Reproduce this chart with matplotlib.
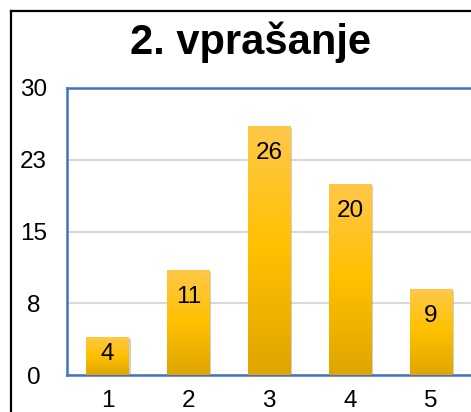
import matplotlib
matplotlib.use("Agg")
import matplotlib.pyplot as plt
import numpy as np
from matplotlib.colors import LinearSegmentedColormap
from matplotlib.lines import Line2D
import matplotlib.patheffects as pe

categories = ["1", "2", "3", "4", "5"]
values = [4, 11, 26, 20, 9]
yticks = [0, 7.5, 15, 22.5, 30]
ytick_labels = ["0", "8", "15", "23", "30"]
title = "2. vprašanje"

plt.rcParams['font.family'] = ['Liberation Sans', 'DejaVu Sans']

W, H = 471, 412
fig = plt.figure(figsize=(W / 100, H / 100), dpi=100)

# outer chart border (cropped on right/bottom)
fig.add_artist(Line2D([11 / W, 11 / W], [0, 1 - 11 / H], color="black", lw=1.6, transform=fig.transFigure))
fig.add_artist(Line2D([11 / W, 1.01], [1 - 11 / H, 1 - 11 / H], color="black", lw=1.6, transform=fig.transFigure))

left, right, top, bottom = 67, 471.5, 88, 375
ax = fig.add_axes([left / W, 1 - bottom / H, (right - left) / W, (bottom - top) / H])

x = np.arange(len(categories))

cmap = LinearSegmentedColormap.from_list("gold", ["#DFA500", "#FFC000", "#FFC84A"])
grad = np.linspace(0, 1, 256).reshape(-1, 1)

bars = ax.bar(x, values, width=0.52, color="#FFC000", zorder=3,
              path_effects=[pe.SimplePatchShadow(offset=(1.5, -1.5), shadow_rgbFace="#888888", alpha=0.4), pe.Normal()])
for b in bars:
    bx, by = b.get_x(), b.get_y()
    bw, bh = b.get_width(), b.get_height()
    im = ax.imshow(grad, cmap=cmap, origin="lower", aspect="auto",
                   extent=[bx, bx + bw, by, by + bh], zorder=4)
    im.set_clip_path(b)

ax.set_xlim(-0.5, len(categories) - 0.5)
ax.set_ylim(0, 30)

fs = 17.5
px_per_unit = (bottom - top) / 30.0
for xi, v in zip(x, values):
    hpx = v * px_per_unit
    if hpx < 55:
        ypos = v / 2.0 + 1.5 / px_per_unit
    else:
        ypos = v - 27 / px_per_unit
    ax.text(xi, ypos, str(v), ha="center", va="center", fontsize=fs, color="black", zorder=6)

ax.set_yticks(yticks)
ax.set_yticklabels(ytick_labels)
ax.set_xticks(x)
ax.set_xticklabels(categories)
ax.tick_params(axis="both", length=0, labelsize=fs, colors="black")
ax.tick_params(axis="x", pad=11)
for lab in ax.get_yticklabels():
    lab.set_horizontalalignment("center")
ax.tick_params(axis="y", pad=24)

ax.grid(axis="y", color="#D9D9D9", lw=1.5, zorder=1)
ax.set_axisbelow(True)
for s in ["left", "top", "bottom"]:
    ax.spines[s].set_color("#4472C4")
    ax.spines[s].set_linewidth(1.8)
ax.spines["right"].set_color("#C9D6EE")
ax.spines["right"].set_linewidth(1.2)

fig.text(250 / W, 1 - 42 / H, title, ha="center", va="center", fontsize=30, fontweight="bold")

fig.savefig("out.png", dpi=100)
